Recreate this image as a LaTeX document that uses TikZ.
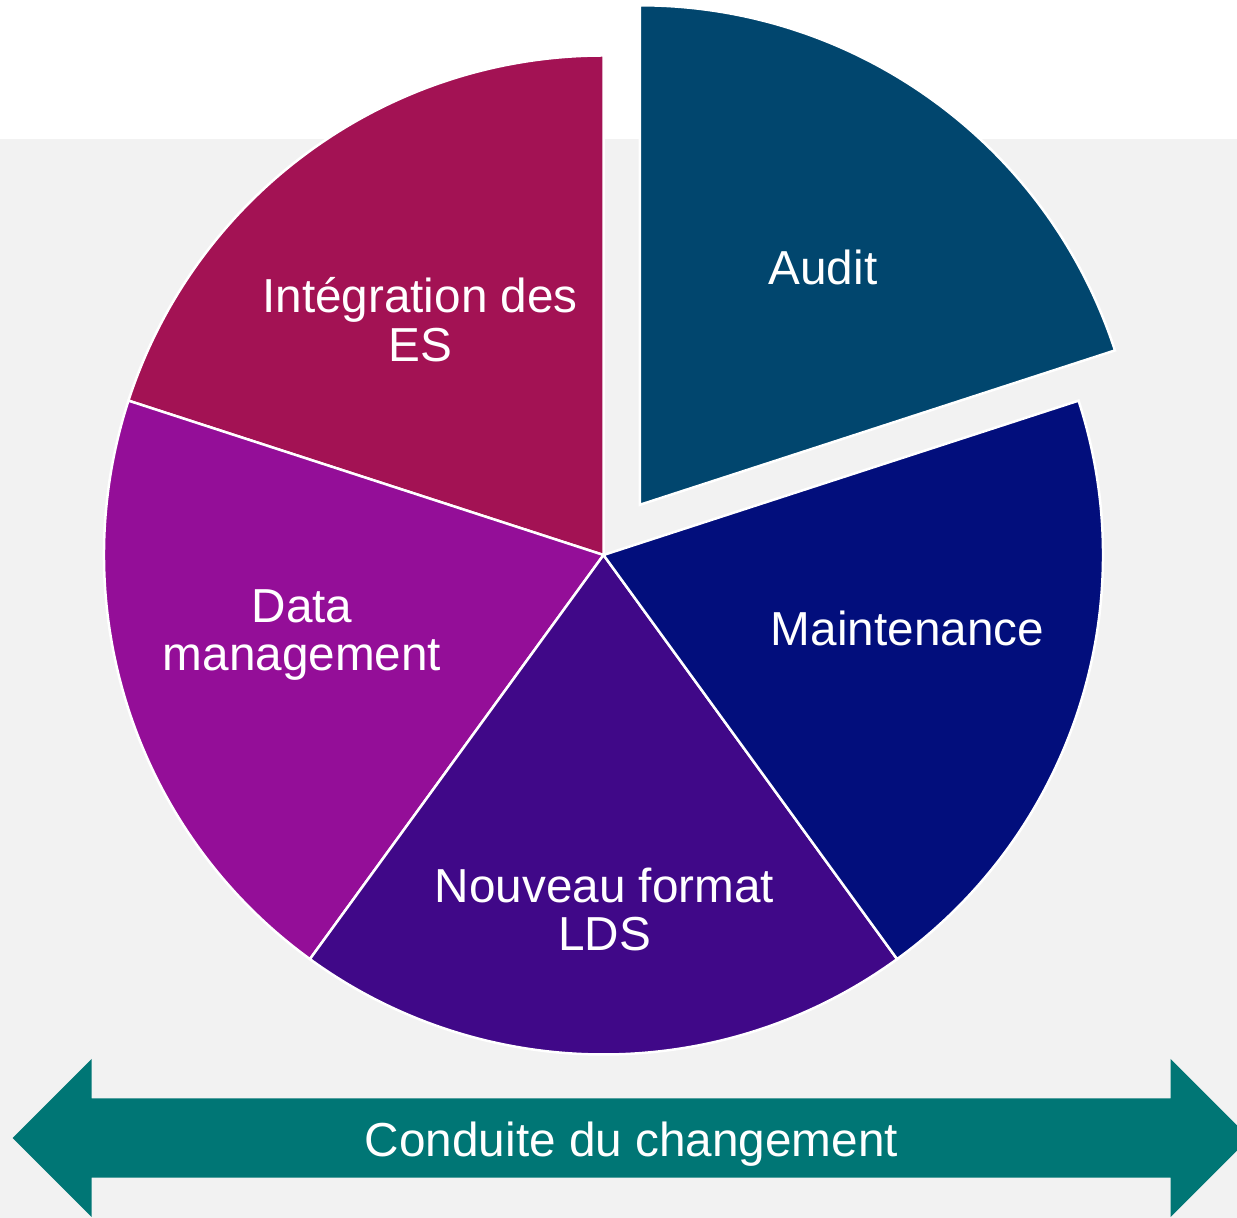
\documentclass[tikz,border=0pt]{standalone}
\usepackage{fontspec}
\setmainfont{Liberation Sans}
\definecolor{bggray}{RGB}{242,242,242}
\definecolor{auditc}{RGB}{1,70,110}
\definecolor{maintc}{RGB}{2,14,124}
\definecolor{nouvc}{RGB}{64,8,136}
\definecolor{datac}{RGB}{148,14,152}
\definecolor{integc}{RGB}{163,18,84}
\definecolor{arrowc}{RGB}{0,118,117}
\begin{document}
\begin{tikzpicture}[x=1pt,y=1pt,
  lbl/.style={text=white, font=\fontsize{47.7}{50}\selectfont, inner sep=0pt, anchor=base},
  slice/.style={draw=white, line width=2.5pt, line join=miter}]
\useasboundingbox (0,0) rectangle (1237,1218);
\clip (0,0) rectangle (1237,1218);
\fill[white] (0,0) rectangle (1237,1218);
\fill[bggray] (0,0) rectangle (1237,1079);
\coordinate (C) at (603.5,663);
\coordinate (CA) at (639.9,713.2);
% slices
\filldraw[slice, fill=integc] (C) -- ++(90:499.5) arc[start angle=90, end angle=162, radius=499.5] -- cycle;
\filldraw[slice, fill=datac] (C) -- ++(162:499.5) arc[start angle=162, end angle=234, radius=499.5] -- cycle;
\filldraw[slice, fill=nouvc] (C) -- ++(234:499.5) arc[start angle=234, end angle=306, radius=499.5] -- cycle;
\filldraw[slice, fill=maintc] (C) -- ++(306:499.5) arc[start angle=306, end angle=378, radius=499.5] -- cycle;
\filldraw[slice, fill=auditc] (CA) -- ++(18:499.5) arc[start angle=18, end angle=90, radius=499.5] -- cycle;
% arrow
\fill[arrowc] (12.7,80) -- (91.7,159) -- (91.7,119.7) -- (1170.7,119.7) -- (1170.7,159) -- (1249.7,80)
  -- (1170.7,1) -- (1170.7,40.3) -- (91.7,40.3) -- (91.7,1) -- cycle;
% labels
\node[lbl] (audit) at (823,933) {Audit};
\node[lbl] (maint) at (907.5,572) {Maintenance};
\node[lbl] (integ1) at (420,905.7) {Intégration des};
\node[lbl] (integ2) at (420,856.3) {ES};
\node[lbl] (data1) at (302,595.7) {Data};
\node[lbl] (data2) at (302,547.3) {management};
\node[lbl] (nouv1) at (604.5,315.7) {Nouveau format};
\node[lbl] (nouv2) at (604.5,267.3) {LDS};
\node[lbl] (cond) at (631.5,61) {Conduite du changement};
\end{tikzpicture}
\end{document}
